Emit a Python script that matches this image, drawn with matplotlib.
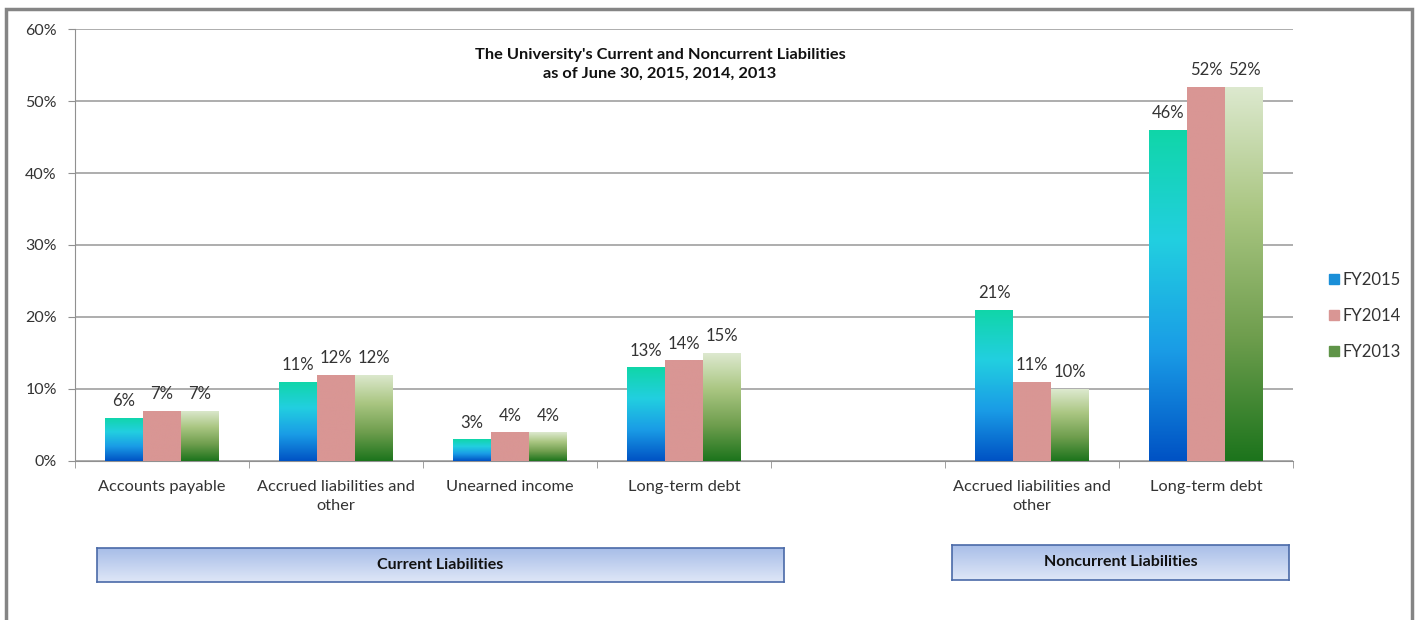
import numpy as np
import matplotlib
matplotlib.use("Agg")
import matplotlib.pyplot as plt
from matplotlib.colors import LinearSegmentedColormap
from matplotlib.patches import Rectangle
from matplotlib.lines import Line2D

plt.rcParams['font.family'] = ['Lato', 'DejaVu Sans']

# data (percent of total liabilities)
categories = ["Accounts payable", "Accrued liabilities and\nother", "Unearned income",
              "Long-term debt", "", "Accrued liabilities and\nother", "Long-term debt"]
fy2015 = [6, 11, 3, 13, np.nan, 21, 46]
fy2014 = [7, 12, 4, 14, np.nan, 11, 52]
fy2013 = [7, 12, 4, 15, np.nan, 10, 52]
series_names = ["FY2015", "FY2014", "FY2013"]
groups = ["Current Liabilities", "Noncurrent Liabilities"]

# gradient colour maps (bottom -> top)
cm15 = LinearSegmentedColormap.from_list("c15", ["#0052c4", "#1a9ce6", "#22cfe0", "#10d6a8"])
cm14 = LinearSegmentedColormap.from_list("c14", ["#d99694", "#d99694"])
cm13 = LinearSegmentedColormap.from_list("c13", ["#1c741c", "#6f9e4e", "#aac682", "#dde9cf"])
cmaps = [cm15, cm14, cm13]

fig = plt.figure(figsize=(14.17, 6.2), dpi=100)
ax = fig.add_axes([0.0529, 0.2565, 0.8596, 0.6967])

x = np.arange(len(categories))
w = 0.218
grad = np.linspace(0, 1, 256).reshape(-1, 1)

for k, vals in enumerate([fy2015, fy2014, fy2013]):
    off = (k - 1) * w
    for xi, v in zip(x, vals):
        if np.isnan(v):
            continue
        rect = ax.bar(xi + off, v, width=w, facecolor="none", edgecolor="none", zorder=3)[0]
        im = ax.imshow(grad, cmap=cmaps[k], aspect="auto", origin="lower",
                       extent=[xi + off - w / 2, xi + off + w / 2, 0, v], zorder=3)
        im.set_clip_path(rect)
        ax.text(xi + off, v + 1.2, f"{v:.0f}%", ha="center", va="bottom",
                fontsize=12, color="#333333", zorder=4)

ax.set_xlim(-0.5, len(categories) - 0.5)
ax.set_ylim(0, 60)
ax.set_yticks(np.arange(0, 61, 10))
ax.set_yticklabels([f"{t}%" for t in range(0, 61, 10)], fontsize=11.5, color="#333333")
ax.yaxis.grid(True, color="#a0a0a0", linewidth=1.2)
ax.set_axisbelow(True)

ax.set_xticks(x)
ax.set_xticklabels(categories, fontsize=11.8, color="#333333", linespacing=1.45)
ax.set_xticks(np.arange(-0.5, len(categories), 1), minor=True)
ax.tick_params(axis="x", which="major", length=0, pad=14)
ax.tick_params(axis="x", which="minor", length=5, color="#909090", direction="out")
ax.tick_params(axis="y", length=5, color="#909090", pad=8)

for s in ["top", "right"]:
    ax.spines[s].set_visible(False)
ax.spines["left"].set_color("#909090")
ax.spines["bottom"].set_color("#909090")

fig.text(0.4658, 0.896, "The University's Current and Noncurrent Liabilities\nas of June 30, 2015, 2014, 2013",
         ha="center", va="center", fontsize=11.8, fontweight="bold", color="#111111", linespacing=1.5)

# legend
handles = [Line2D([], [], marker="s", linestyle="none", markersize=7, markerfacecolor=c, markeredgecolor=c)
           for c in ["#1a8fd8", "#d99694", "#5f9448"]]
fig.legend(handles, series_names, loc="center left", bbox_to_anchor=(0.925, 0.49), frameon=False,
           fontsize=12, labelspacing=1.2, handletextpad=0.0, handlelength=1.0, labelcolor="#333333")

# group boxes
box_cm = LinearSegmentedColormap.from_list("box", ["#dfe7f7", "#a7bde8"])
for name, pos in zip(groups, [[0.0685, 0.0613, 0.4848, 0.0548], [0.6718, 0.0645, 0.2378, 0.0565]]):
    bx = fig.add_axes(pos)
    bx.imshow(grad, cmap=box_cm, aspect="auto", origin="lower", extent=[0, 1, 0, 1])
    bx.set_xlim(0, 1)
    bx.set_ylim(0, 1)
    bx.set_xticks([])
    bx.set_yticks([])
    for s in bx.spines.values():
        s.set_color("#4a6aa8")
        s.set_linewidth(1.2)
    bx.text(0.5, 0.5, name, ha="center", va="center", fontsize=11.5, fontweight="bold", color="#111111")

# outer frame
fig.patches.append(Rectangle((6 / 1417, -0.05), 1406 / 1417, 1.05 - 9 / 620, transform=fig.transFigure,
                             fill=False, edgecolor="#858585", linewidth=2.5))

fig.savefig("out.png", dpi=100)
